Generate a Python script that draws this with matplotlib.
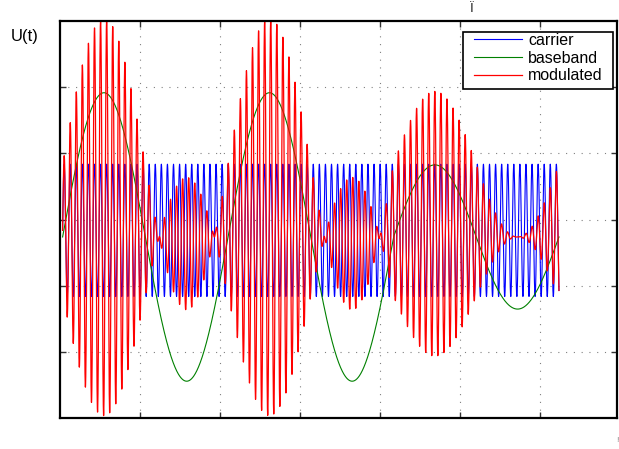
import numpy as np
import matplotlib
matplotlib.use("Agg")
import matplotlib.pyplot as plt
from matplotlib.patches import Rectangle

# ---- data ----
t_start, t_end = 0.0, 2 * np.pi       # time span of the signals
n_samples = 8000
carrier_freq = 13.0                   # carrier cycles per time unit
carrier_amp = 1.0
carrier_offset = 0.1
base_rate = 3.0                       # baseband angular rate
base_amps = [2.0, 1.0]                # message amplitude before / after switch
switch_t = 4 * np.pi / 3
baseband_scale = 1.09                 # drawn baseband = scale * message
labels = ["carrier", "baseband", "modulated"]
colors = ["#0000ff", "#008000", "#ff0000"]

t = np.linspace(t_start, t_end, n_samples)
carrier = carrier_offset + carrier_amp * np.sin(2 * np.pi * carrier_freq * t)
amp = np.where(t < switch_t, base_amps[0], base_amps[1])
message = amp * np.sin(base_rate * t)
baseband = baseband_scale * message
modulated = (1 + message) * carrier

# ---- figure ----
W, H = 619, 449
fig = plt.figure(figsize=(W / 100, H / 100), dpi=100)
L, R, T, B = 60, 617, 21, 418
ax = fig.add_axes([L / W, 1 - B / H, (R - L) / W, (B - T) / H])

ax.plot(t, carrier, color=colors[0], lw=0.8, label=labels[0])
ax.plot(t, baseband, color=colors[1], lw=0.8, label=labels[1])
ax.plot(t, modulated, color=colors[2], lw=0.9, label=labels[2])

px_x = 79.0          # pixels per time unit
x0 = (L - 62.6) / px_x
ax.set_xlim(x0, x0 + (R - L) / px_x)
ax.set_xticks(x0 + np.arange(1, 7) * 80 / px_x)
ax.set_ylim(0.264 - 3, 0.264 + 3)
ax.set_yticks(0.264 + np.arange(-2, 3))

ax.tick_params(direction="in", length=4, width=1, color="#333333",
               top=True, right=True, labelbottom=False, labelleft=False)
ax.grid(True, color="#808080", linestyle=(0, (1, 6)), linewidth=0.8)
for s in ax.spines.values():
    s.set_linewidth(1.6)
    s.set_color("black")

# legend entries (frame drawn separately to match the wide side padding)
leg = ax.legend(loc="upper left",
                bbox_to_anchor=(474 / W, 1 - 33 / H), bbox_transform=fig.transFigure,
                prop={"family": "Liberation Sans", "size": 11.5},
                frameon=False, borderaxespad=0, borderpad=0,
                handlelength=3.0, handletextpad=0.38, labelspacing=0.17)
leg.set_zorder(6)
frame = Rectangle((463 / W, 1 - 89 / H), 150 / W, 57 / H, transform=fig.transFigure,
                  facecolor="white", edgecolor="black", linewidth=1.2,
                  zorder=5, clip_on=False)
ax.add_artist(frame)

fig.text(11 / W, 1 - 36 / H, "U(t)", family="Liberation Sans", fontsize=12,
         ha="left", va="center")
fig.text(472 / W, 1 - 9 / H, "Ï", family="Liberation Sans", fontsize=9.5,
         color="#222222", ha="center", va="center")
fig.text(617 / W, 1 - 440 / H, "!", family="Liberation Sans", fontsize=6,
         color="#888888", ha="center", va="center")

fig.savefig("out.png", dpi=100)
